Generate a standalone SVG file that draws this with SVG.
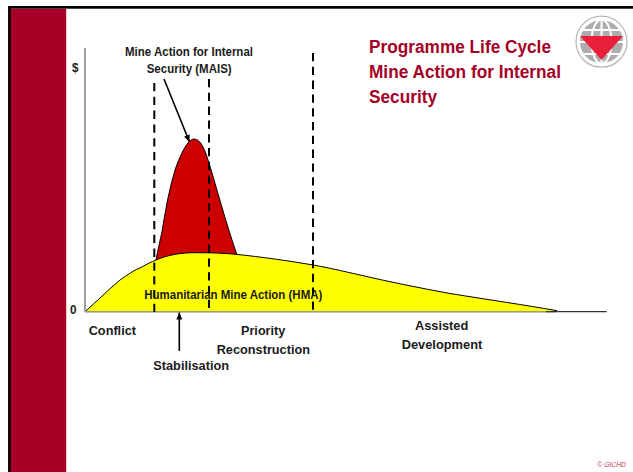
<svg xmlns="http://www.w3.org/2000/svg" width="633" height="472" viewBox="0 0 633 472">
<defs>
<marker id="ah" markerUnits="userSpaceOnUse" markerWidth="8" markerHeight="8" refX="7" refY="4" orient="auto"><path d="M0 1L7 4L0 7Z" fill="#000"/></marker>
</defs>
<style>
text{font-family:"Liberation Sans",Arial,sans-serif;font-weight:bold;fill:#1a1a1a}
.l{font-size:13px}
.t{font-size:18px;fill:#a50026}
.d{fill:none;stroke:#000;stroke-width:2;stroke-dasharray:8.300 5.500}
</style>
<rect width="633" height="472" fill="#fff"/>
<g id="frame">
<rect x="8" y="6" width="625" height="2.700" fill="#000"/>
<rect x="8" y="6" width="3" height="466" fill="#1a0008"/>
<rect x="11" y="8.700" width="55" height="463.300" fill="#a50026"/>
<rect x="66" y="8.700" width="0.800" height="463.300" fill="#f0b0c0"/>
</g>
<g id="curves">
<path id="mais-curve" d="M156 260C158 250 160 240 162 232C165 212 169 190 175 170C181 153 188 139 194 139C201 139 205 150 209 163C216 186 225 220 237 255L200 270Z" fill="#cc0000" stroke="#000" stroke-width="1"/>
<path id="hma-curve" d="M85 311.700C96 302 108 290 120 280C127 275 134 270 142 267C147 264 151 262 156 260C168 255 180 252.700 195 252.700C210 252.700 223 253 236 254.300C262 257 290 261 313 265C330 268 342 271 360 275C390 282 420 288 450 293.500C490 300 525 305 557 310.700L553 311.700L85 311.700Z" fill="#ffff00" stroke="#000" stroke-width="1"/>
</g>
<g id="connectors">
<path id="axis-y" d="M85 48V312" stroke="#808080" stroke-width="1.500" fill="none"/>
<path id="axis-x" d="M85 312H556" stroke="#c0c0a8" stroke-width="1.500" fill="none"/>
<path id="axis-x-end" d="M546 311.700H606.700" stroke="#333" stroke-width="1.200" fill="none"/>
<path class="d" d="M154.300 83V312"/>
<path class="d" d="M209 79V308"/>
<path class="d" d="M313 53V310"/>
<path d="M164 79L189.500 142" stroke="#000" stroke-width="1.600" fill="none" marker-end="url(#ah)"/>
<path d="M179.300 351V312.500" stroke="#000" stroke-width="1.600" fill="none" marker-end="url(#ah)"/>
</g>
<g id="logo">
<circle cx="601.500" cy="41.700" r="25.500" fill="#fff" stroke="#b5b5b5" stroke-width="1.200"/>
<circle cx="601.500" cy="41.700" r="21.500" fill="#adadad"/>
<g stroke="#fff" stroke-width="2" fill="none">
<path d="M582 30H621M580 42H623M582 54H621"/>
<ellipse cx="601.500" cy="41.700" rx="10" ry="22"/>
<path d="M601.500 20V64"/>
</g>
<path d="M580 36H623L601.500 60Z" fill="#e8203a"/>
</g>
<g id="title">
<text class="t" x="369" y="52.700" textLength="182" lengthAdjust="spacingAndGlyphs">Programme Life Cycle</text>
<text class="t" x="369" y="77.700" textLength="192" lengthAdjust="spacingAndGlyphs">Mine Action for Internal</text>
<text class="t" x="369" y="102.700" textLength="68" lengthAdjust="spacingAndGlyphs">Security</text>
</g>
<g id="labels">
<text class="l" x="125" y="56" textLength="128" lengthAdjust="spacingAndGlyphs">Mine Action for Internal</text>
<text class="l" x="146.700" y="73.300" textLength="85" lengthAdjust="spacingAndGlyphs">Security (MAIS)</text>
<text class="l" x="72" y="72" textLength="6.500" lengthAdjust="spacingAndGlyphs">$</text>
<text class="l" x="70" y="314" textLength="6.500" lengthAdjust="spacingAndGlyphs">0</text>
<text class="l" x="144.300" y="299" textLength="178" lengthAdjust="spacingAndGlyphs">Humanitarian Mine Action (HMA)</text>
<text class="l" x="88.700" y="335" textLength="47.300" lengthAdjust="spacingAndGlyphs">Conflict</text>
<text class="l" x="241" y="335" textLength="44.300" lengthAdjust="spacingAndGlyphs">Priority</text>
<text class="l" x="216.700" y="354" textLength="93.300" lengthAdjust="spacingAndGlyphs">Reconstruction</text>
<text class="l" x="153.300" y="370" textLength="75.700" lengthAdjust="spacingAndGlyphs">Stabilisation</text>
<text class="l" x="415" y="330" textLength="53.300" lengthAdjust="spacingAndGlyphs">Assisted</text>
<text class="l" x="401.700" y="349" textLength="80.600" lengthAdjust="spacingAndGlyphs">Development</text>
<text x="597.300" y="466.700" textLength="28.700" lengthAdjust="spacingAndGlyphs" style="font-size:6.500px;font-style:italic;font-weight:normal;fill:#c03858">© GICHD</text>
</g>
</svg>
